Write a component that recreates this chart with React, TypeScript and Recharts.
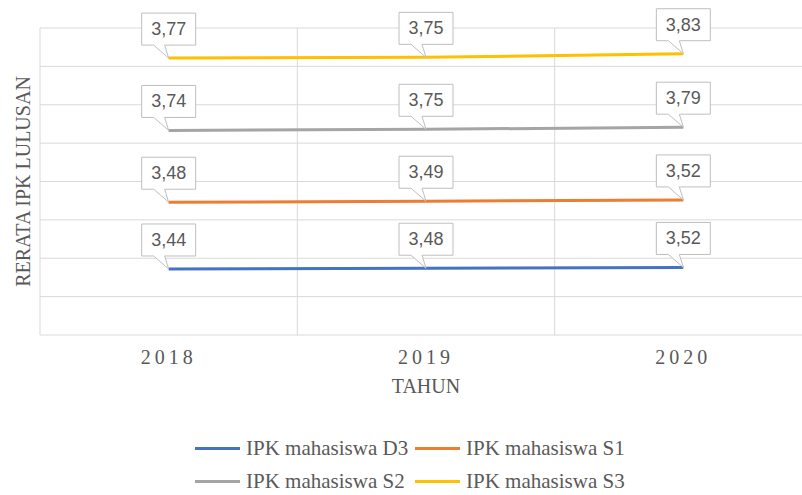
import { ComposedChart, Area, XAxis, YAxis, CartesianGrid } from 'recharts'

const years = ['2018', '2019', '2020']
const ipkD3 = [3.44, 3.48, 3.52]
const ipkS1 = [3.48, 3.49, 3.52]
const ipkS2 = [3.74, 3.75, 3.79]
const ipkS3 = [3.77, 3.75, 3.83]
const yTicks = [0, 2, 4, 6, 8, 10, 12, 14, 16]

const series = [
  { key: 'd3', name: 'IPK mahasiswa D3', values: ipkD3, color: '#4472C4' },
  { key: 's1', name: 'IPK mahasiswa S1', values: ipkS1, color: '#ED7D31' },
  { key: 's2', name: 'IPK mahasiswa S2', values: ipkS2, color: '#A5A5A5' },
  { key: 's3', name: 'IPK mahasiswa S3', values: ipkS3, color: '#FFC000' },
]

const data = years.map((year, i) => ({
  year,
  d3: ipkD3[i],
  s1: ipkS1[i],
  s2: ipkS2[i],
  s3: ipkS3[i],
}))

const textColor = '#595959'
const gridColor = '#d9d9d9'
const serif = "'Liberation Serif', 'Times New Roman', serif"

function callout(values: number[]) {
  return (props: any) => {
    const { x, y, index } = props
    if (x == null || y == null) return null
    const w = 54
    const h = 32
    const bottom = y - 13
    const top = bottom - h
    const d = `M${x - w / 2},${top} H${x + w / 2} V${bottom} H${x - 4} L${x},${y} L${x - 15},${bottom} H${x - w / 2} Z`
    return (
      <g key={`lbl-${index}`}>
        <path d={d} fill="#fff" stroke="#bfbfbf" strokeWidth={1} />
        <text
          x={x}
          y={top + h / 2 + 6}
          textAnchor="middle"
          fontSize={18}
          fontFamily="'Liberation Sans', Arial, sans-serif"
          fill={textColor}
        >
          {values[index].toFixed(2).replace('.', ',')}
        </text>
      </g>
    )
  }
}

function bandLines({ offset }: any) {
  const n = years.length
  const step = offset.width / n
  const out: number[] = []
  for (let i = 0; i <= n; i++) out.push(offset.left + step * i)
  return out
}

function valueLines({ yAxis, offset }: any) {
  if (yAxis && typeof yAxis.scale === 'function') {
    return yTicks.map((v) => yAxis.scale(v))
  }
  const max = yTicks[yTicks.length - 1]
  return yTicks.map((v) => offset.top + offset.height * (1 - v / max))
}

export default function App() {
  return (
    <div
      style={{
        position: 'absolute',
        left: 0,
        top: 0,
        width: 802,
        height: 495,
        overflow: 'hidden',
        background: '#fff',
      }}
    >
      <ComposedChart
        width={820}
        height={495}
        data={data}
        margin={{ top: 28, right: 8, left: 0, bottom: 96 }}
      >
        <CartesianGrid
          stroke={gridColor}
          horizontalCoordinatesGenerator={valueLines}
          verticalCoordinatesGenerator={bandLines}
        />
        <XAxis
          dataKey="year"
          scale="band"
          axisLine={false}
          tickLine={false}
          tickMargin={9}
          height={64}
          tick={{ fontSize: 20, fill: textColor, fontFamily: serif, letterSpacing: 4 }}
          label={{
            value: 'TAHUN',
            position: 'insideBottom',
            offset: 6,
            fontSize: 20,
            fill: textColor,
            fontFamily: serif,
          }}
        />
        <YAxis
          domain={[0, 16]}
          ticks={yTicks}
          width={40}
          tick={false}
          axisLine={false}
          tickLine={false}
          label={{
            value: 'RERATA IPK LULUSAN',
            angle: -90,
            position: 'center',
            dx: 3,
            fontSize: 20,
            fill: textColor,
            fontFamily: serif,
          }}
        />
        {series.map((s) => (
          <Area
            key={s.key}
            type="linear"
            dataKey={s.key}
            name={s.name}
            stackId="ipk"
            stroke={s.color}
            strokeWidth={3}
            fill="none"
            fillOpacity={0}
            dot={false}
            activeDot={false}
            isAnimationActive={false}
            label={callout(s.values)}
          />
        ))}
      </ComposedChart>
      <div
        style={{
          position: 'absolute',
          left: 195,
          top: 436,
          width: 460,
          display: 'grid',
          gridTemplateColumns: '220px 220px',
          rowGap: 9,
          lineHeight: '24px',
        }}
      >
        {series.map((s) => (
          <div
            key={s.key}
            style={{
              display: 'flex',
              alignItems: 'center',
              whiteSpace: 'nowrap',
              fontFamily: serif,
              fontSize: 21,
              color: textColor,
            }}
          >
            <span
              style={{
                display: 'inline-block',
                width: 45,
                height: 3,
                background: s.color,
                marginRight: 6,
              }}
            />
            <span style={{ fontFamily: serif }}>{s.name}</span>
          </div>
        ))}
      </div>
    </div>
  )
}
